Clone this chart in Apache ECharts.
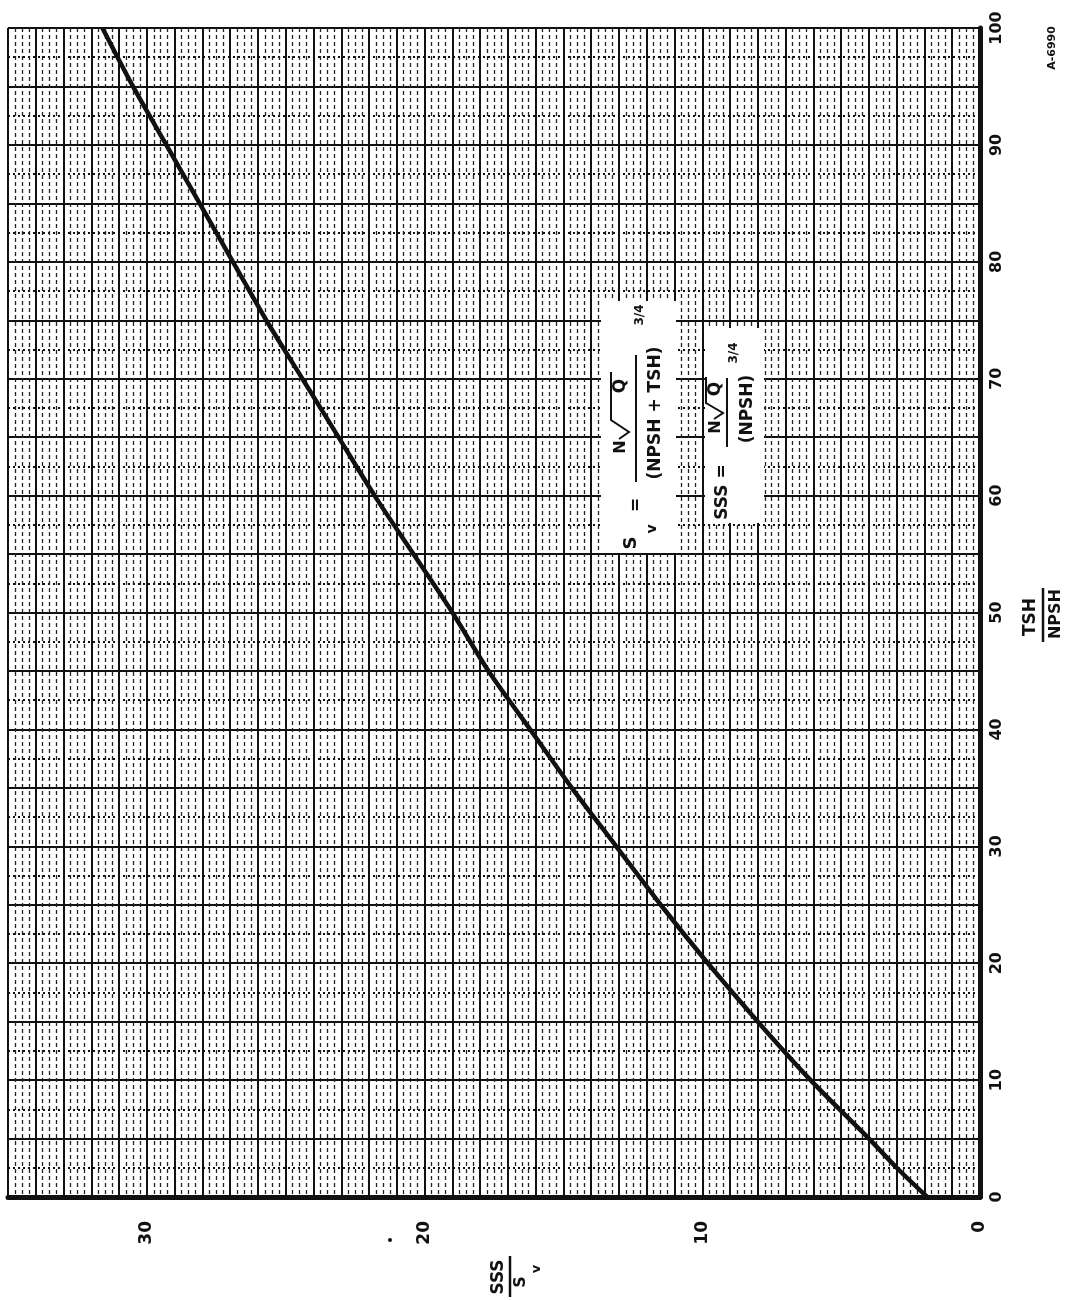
<!DOCTYPE html>
<html>
<head>
<meta charset="utf-8">
<script src="https://cdn.jsdelivr.net/npm/echarts@6/dist/echarts.min.js"></script>
<style>
  html, body { margin: 0; padding: 0; background: #ffffff; }
  #chart { width: 1074px; height: 1300px; }
</style>
</head>
<body>
<div id="chart"></div>
<script>
// TSH/NPSH values along the curve
const tshOverNpsh = [0, 2.5, 5, 10, 15, 20, 25, 30, 35, 40, 45, 50, 55, 60, 65, 70, 75, 80, 85, 90, 95, 100];
// SSS/Sv read at each TSH/NPSH value
const sssOverSv = [1.9, 3.0, 4.0, 6.1, 8.0, 9.8, 11.5, 13.1, 14.7, 16.2, 17.7, 19.0, 20.4, 21.8, 23.1, 24.4, 25.7, 26.9, 28.1, 29.3, 30.5, 31.6];
// labelled ticks
const sssTickLabels = [0, 10, 20, 30];
const tshTickLabels = [0, 10, 20, 30, 40, 50, 60, 70, 80, 90, 100];

const FONT = '"DejaVu Sans", "Liberation Sans", sans-serif';
const INK = '#111111';

const chart = echarts.init(document.getElementById('chart'), null, { renderer: 'canvas' });

const curve = tshOverNpsh.map((t, i) => [sssOverSv[i], t]);

// text rotated to read bottom-to-top, centred on (x, y)
function vtext(x, y, text, size, weight) {
  return {
    type: 'text', x: x, y: y, rotation: Math.PI / 2, z: 20,
    style: {
      text: text, fill: INK, align: 'center', verticalAlign: 'middle',
      font: (weight || 'bold') + ' ' + size + 'px ' + FONT
    }
  };
}
function seg(points, w) {
  return { type: 'polyline', z: 20, shape: { points: points },
           style: { stroke: INK, lineWidth: w || 2, fill: null } };
}

const graphics = [
  // white panels behind the formulas
  { type: 'rect', z: 10, shape: { x: 601, y: 301, width: 75, height: 252 }, style: { fill: '#ffffff' } },
  { type: 'rect', z: 10, shape: { x: 705, y: 328, width: 59, height: 195 }, style: { fill: '#ffffff' } },

  // Sv = N√Q / (NPSH + TSH)^(3/4)
  vtext(631, 543, 'S', 18),
  vtext(652, 529, 'v', 14),
  vtext(637, 505, '=', 17),
  seg([[636, 482], [636, 355]], 2),
  vtext(621, 447, 'N', 16),
  seg([[619, 439], [629, 432], [611, 420], [611, 372]], 2),
  vtext(621, 386, 'Q', 17),
  vtext(656, 413, '(NPSH + TSH)', 17),
  vtext(640, 315, '3/4', 12),

  // SSS = N√Q / (NPSH)^(3/4)
  vtext(723, 492, 'SSS =', 17),
  seg([[727, 447], [727, 378]], 2),
  vtext(716, 427, 'N', 16),
  seg([[714, 419], [723, 413], [706, 403], [706, 377]], 2),
  vtext(716, 389, 'Q', 17),
  vtext(748, 409, '(NPSH)', 17),
  vtext(734, 353, '3/4', 12),

  // vertical-axis title  TSH / NPSH
  vtext(1031, 617, 'TSH', 17),
  seg([[1043, 642], [1043, 588]], 2.5),
  vtext(1056, 614, 'NPSH', 16),

  // horizontal-axis title  SSS / Sv
  vtext(499, 1277, 'SSS', 17),
  seg([[510, 1297], [510, 1256]], 2.5),
  vtext(521, 1282, 'S', 16),
  vtext(537, 1269, 'v', 13),

  // figure number
  vtext(1052, 48, 'A-6990', 11),
  // speck beside the 20 label
  { type: 'circle', z: 20, shape: { cx: 390, cy: 1240, r: 2 }, style: { fill: INK } }
];

const option = {
  backgroundColor: '#ffffff',
  animation: false,
  grid: { left: 8, right: 94, top: 28, bottom: 103, containLabel: false },
  xAxis: {
    type: 'value', min: 0, max: 35, interval: 1, inverse: true, position: 'bottom',
    axisLine: { show: true, onZero: false, lineStyle: { color: INK, width: 5 } },
    axisTick: { show: false },
    axisLabel: {
      rotate: 90, margin: 24, color: INK,
      fontFamily: FONT, fontWeight: 'bold', fontSize: 17,
      formatter: v => sssTickLabels.includes(v) ? String(v) : ''
    },
    splitLine: { show: true, lineStyle: { color: INK, width: 2 } },
    minorTick: { show: false, splitNumber: 4 },
    minorSplitLine: { show: true, lineStyle: { color: '#222', width: 1.3, type: [4, 3] } }
  },
  yAxis: {
    type: 'value', min: 0, max: 100, interval: 5, position: 'right',
    axisLine: { show: true, onZero: false, lineStyle: { color: INK, width: 5 } },
    axisTick: { show: false },
    axisLabel: {
      rotate: 90, margin: 9, color: INK,
      fontFamily: FONT, fontWeight: 'bold', fontSize: 16,
      formatter: v => tshTickLabels.includes(v) ? String(v) : ''
    },
    splitLine: { show: true, lineStyle: { color: INK, width: 2 } },
    minorTick: { show: false, splitNumber: 2 },
    minorSplitLine: { show: true, lineStyle: { color: INK, width: 2, type: [2, 3] } }
  },
  series: [{
    type: 'line', data: curve, smooth: 0.3, symbol: 'none', z: 5,
    lineStyle: { color: INK, width: 4.5 }
  }],
  graphic: graphics
};

chart.setOption(option);
</script>
</body>
</html>
